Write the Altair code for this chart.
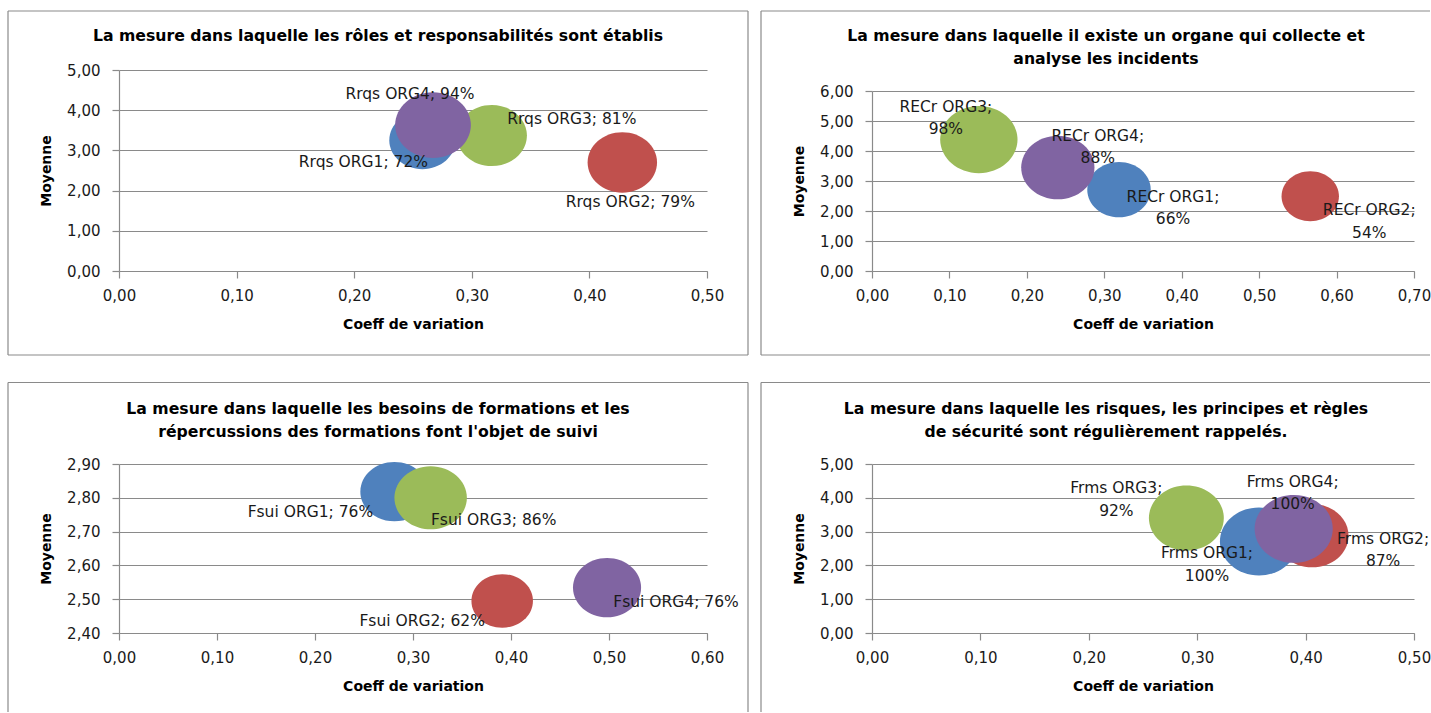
import altair as alt
import pandas as pd

# ---------------- data ----------------
orgs = ["ORG1", "ORG2", "ORG3", "ORG4"]
colors = ["#4F81BD", "#C0504D", "#9BBB59", "#8064A2"]

titles = [
    "La mesure dans laquelle les rôles et responsabilités sont établis",
    "La mesure dans laquelle il existe un organe qui collecte et\nanalyse les incidents",
    "La mesure dans laquelle les besoins de formations et les\nrépercussions des formations font l'objet de suivi",
    "La mesure dans laquelle les risques, les principes et règles\nde sécurité sont régulièrement rappelés.",
]
prefixes = ["Rrqs", "RECr", "Fsui", "Frms"]

cv_rrqs = [0.258, 0.428, 0.317, 0.267]
moy_rrqs = [3.25, 2.70, 3.37, 3.63]
pct_rrqs = [72, 79, 81, 94]

cv_recr = [0.319, 0.566, 0.138, 0.240]
moy_recr = [2.71, 2.49, 4.38, 3.45]
pct_recr = [66, 54, 98, 88]

cv_fsui = [0.281, 0.391, 0.318, 0.498]
moy_fsui = [2.818, 2.495, 2.800, 2.534]
pct_fsui = [76, 62, 86, 76]

cv_frms = [0.357, 0.406, 0.290, 0.389]
moy_frms = [2.71, 2.88, 3.40, 3.08]
pct_frms = [100, 87, 92, 100]

x_ticks = [
    [0.0, 0.1, 0.2, 0.3, 0.4, 0.5],
    [0.0, 0.1, 0.2, 0.3, 0.4, 0.5, 0.6, 0.7],
    [0.0, 0.1, 0.2, 0.3, 0.4, 0.5, 0.6],
    [0.0, 0.1, 0.2, 0.3, 0.4, 0.5],
]
y_ticks = [
    [0, 1, 2, 3, 4, 5],
    [0, 1, 2, 3, 4, 5, 6],
    [2.4, 2.5, 2.6, 2.7, 2.8, 2.9],
    [0, 1, 2, 3, 4, 5],
]
x_title = "Coeff de variation"
y_title = "Moyenne"

series = [
    (cv_rrqs, moy_rrqs, pct_rrqs),
    (cv_recr, moy_recr, pct_recr),
    (cv_fsui, moy_fsui, pct_fsui),
    (cv_frms, moy_frms, pct_frms),
]

# ---------------- style / layout ----------------
FONT = "DejaVu Sans"
GRAY = "#8a8a8a"
ELLIPSE = "M -1 0 A 1 0.87 0 1 1 1 0 A 1 0.87 0 1 1 -1 0 Z"
LABEL_FMT = "replace(format(datum.value, '.2f'), '.', ',')"

styles = [
    dict(w=588, h=201, yrange=None, size=6100, two_lines=False,
         offsets=[(-59, 22), (8, 40), (80, -17), (-23, -31)],
         title_xy=(259, -29), frame=(-111, -59, 629, 285), sides="tlrb"),
    dict(w=542, h=201, yrange=[201, 21], size=4900, two_lines=True,
         offsets=[(54, 7), (59, 14), (-33, -33), (40, -32)],
         title_xy=(234, -29), frame=(-111, -59, 558, 285), sides="tlb"),
    dict(w=588, h=169, yrange=None, size=5300, two_lines=False,
         offsets=[(-84, 20), (-80, 20), (63, 22), (69, 14)],
         title_xy=(259, -50), frame=(-111, -81.5, 629, 248), sides="tlr"),
    dict(w=542, h=169, yrange=None, size=4500, two_lines=True,
         offsets=[(-52, 12), (71, 3), (-70, -30), (-1, -47)],
         title_xy=(234, -50), frame=(-111, -81.5, 558, 248), sides="tl"),
]


def frame_layers(x1, y1, x2, y2, sides):
    base = alt.Chart(pd.DataFrame({"f": [0]}))
    segs = []
    if "t" in sides:
        segs.append((x1, y1, x2, y1))
    if "b" in sides:
        segs.append((x1, y2, x2, y2))
    if "l" in sides:
        segs.append((x1, y1, x1, y2))
    if "r" in sides:
        segs.append((x2, y1, x2, y2))
    out = []
    for (a, b, c, d) in segs:
        out.append(
            base.mark_rule(color=GRAY, strokeWidth=1.2).encode(
                x=alt.value(a), y=alt.value(b), x2=alt.value(c), y2=alt.value(d)
            )
        )
    return out


def panel(i):
    cv, moy, pct = series[i]
    st = styles[i]
    sep = ";\n" if st["two_lines"] else "; "
    df = pd.DataFrame({
        "org": orgs,
        "cv": cv,
        "moy": moy,
        "pct": pct,
    })
    df["frac"] = df["pct"] / 100.0
    df["label"] = [f"{prefixes[i]} {o}{sep}{p}%" for o, p in zip(orgs, pct)]

    xt, yt = x_ticks[i], y_ticks[i]
    x_enc = alt.X(
        "cv:Q",
        scale=alt.Scale(domain=[xt[0], xt[-1]], nice=False, zero=False),
        axis=alt.Axis(
            values=xt, labelExpr=LABEL_FMT, title=x_title, grid=False,
            tickSize=7, labelPadding=10, labelFlush=False, labelOverlap=False,
            titleY=57, titleBaseline="alphabetic",
        ),
    )
    yscale = dict(domain=[yt[0], yt[-1]], nice=False, zero=False)
    if st["yrange"] is not None:
        yscale["range"] = st["yrange"]
        ty = (st["yrange"][0] + st["yrange"][1]) / 2
    else:
        ty = st["h"] / 2
    y_enc = alt.Y(
        "moy:Q",
        scale=alt.Scale(**yscale),
        axis=alt.Axis(
            values=yt, labelExpr=LABEL_FMT, title=y_title, grid=True,
            tickSize=7, labelPadding=12, labelOverlap=False,
            titleX=-73, titleY=ty, titleBaseline="middle", titleAlign="center",
        ),
    )

    bubbles = alt.Chart(df).mark_point(
        shape=ELLIPSE, filled=True, opacity=1, strokeWidth=0
    ).encode(
        x=x_enc,
        y=y_enc,
        size=alt.Size("frac:Q", scale=alt.Scale(type="linear", domain=[0, 1], range=[0, st["size"]]), legend=None),
        color=alt.Color("org:N", scale=alt.Scale(domain=orgs, range=colors), legend=None),
    )

    labels = []
    for j, o in enumerate(orgs):
        dx, dy = st["offsets"][j]
        labels.append(
            alt.Chart(df).transform_filter(alt.datum.org == o).mark_text(
                font=FONT, fontSize=15.5, color="#1a1a1a", align="center",
                baseline="middle", lineBreak="\n", lineHeight=22.5, dx=dx, dy=dy,
            ).encode(x=x_enc, y=y_enc, text="label:N")
        )

    tx, tyy = st["title_xy"]
    title = alt.Chart(pd.DataFrame({"t": [titles[i]]})).mark_text(
        font=FONT, fontSize=15.7, fontWeight="bold", color="#000000",
        align="center", baseline="alphabetic", lineBreak="\n", lineHeight=22.5,
    ).encode(x=alt.value(tx), y=alt.value(tyy), text="t:N")

    fx1, fy1, fx2, fy2 = st["frame"]
    layers = frame_layers(fx1, fy1, fx2, fy2, st["sides"]) + [title, bubbles] + labels
    return alt.layer(*layers).properties(width=st["w"], height=st["h"])


chart = alt.concat(
    panel(0), panel(1), panel(2), panel(3),
    columns=2,
    spacing={"row": 193, "column": 165},
    bounds="flush",
).properties(
    padding={"left": 7, "top": 10, "right": 0, "bottom": 0},
    background="white",
).configure_view(
    strokeWidth=0
).configure_axis(
    labelFont=FONT, labelFontSize=15, labelColor="#1a1a1a",
    titleFont=FONT, titleFontSize=14, titleFontWeight="bold", titleColor="#000000",
    domainColor=GRAY, tickColor=GRAY, gridColor=GRAY,
    domainWidth=1.2, tickWidth=1.2, gridWidth=1.2,
)

chart.save("out.html", embed_options={"renderer": "svg", "actions": False})
